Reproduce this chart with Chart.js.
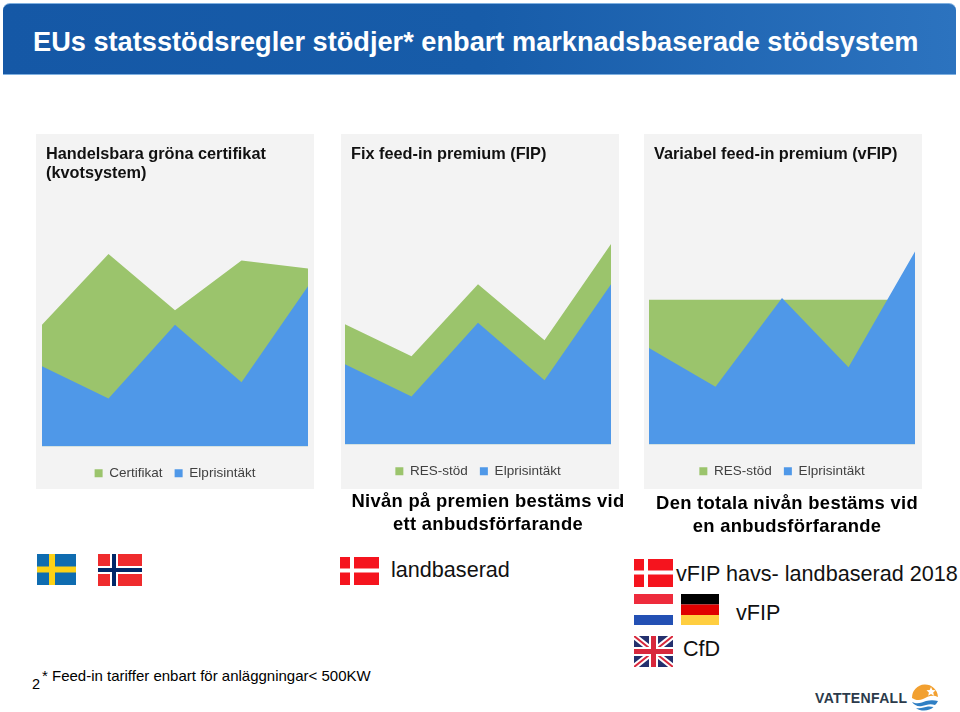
<!DOCTYPE html>
<html lang="sv">
<head>
<meta charset="utf-8">
<title>EUs statsstödsregler</title>
<script src="https://cdn.jsdelivr.net/npm/chart.js@4/dist/chart.umd.min.js"></script>
<style>
  html, body { margin: 0; padding: 0; background: #fff; overflow: hidden; }
  body { width: 960px; height: 712px; position: relative; font-family: "Liberation Sans", Arial, sans-serif; color: #000; }
  .abs { position: absolute; white-space: nowrap; }
  #header {
    left: 3px; top: 3px; width: 953px; height: 72px; box-sizing: border-box;
    border-radius: 7px 7px 0 0;
    border-top: 1px solid #7fb0e0; border-bottom: 1px solid #7fb0e0;
    background: linear-gradient(90deg, #1558a6 0%, #175ca9 50%, #2c73bf 100%);
  }
  #headline { left: 33px; top: 26px; color: #fff; font-size: 27.2px; font-weight: bold; }
  .panel { position: absolute; top: 134px; width: 278px; height: 355px; background: #f3f3f3; }
  .ptitle { font-size: 16.3px; font-weight: bold; color: #111; line-height: 19px; }
  .note { font-size: 18.4px; font-weight: bold; line-height: 23px; text-align: center; letter-spacing: 0.3px; }
  .big { font-size: 21.6px; color: #111; }
  canvas { position: absolute; top: 134px; }
  svg { position: absolute; }
</style>
</head>
<body>
<div id="header" class="abs"></div>
<div id="headline" class="abs">EUs statsstödsregler stödjer* enbart marknadsbaserade stödsystem</div>

<div class="panel" style="left:36px"></div>
<div class="panel" style="left:341px"></div>
<div class="panel" style="left:644px"></div>

<canvas id="chart1" width="278" height="364" style="left:36px"></canvas>
<canvas id="chart2" width="278" height="364" style="left:341px"></canvas>
<canvas id="chart3" width="278" height="364" style="left:644px"></canvas>

<div class="abs ptitle" style="left:46px;top:144px">Handelsbara gröna certifikat<br>(kvotsystem)</div>
<div class="abs ptitle" style="left:351px;top:144px">Fix feed-in premium (FIP)</div>
<div class="abs ptitle" style="left:654px;top:144px">Variabel feed-in premium (vFIP)</div>

<div class="abs note" style="left:342px;top:489px;width:292px">Nivån på premien bestäms vid<br>ett anbudsförfarande</div>
<div class="abs note" style="left:641px;top:491px;width:292px">Den totala nivån bestäms vid<br>en anbudsförfarande</div>

<div class="abs big" style="left:391px;top:557px">landbaserad</div>
<div class="abs big" style="left:676px;top:561px">vFIP havs- landbaserad 2018</div>
<div class="abs big" style="left:736px;top:600px">vFIP</div>
<div class="abs big" style="left:683px;top:636px">CfD</div>

<div class="abs" style="left:42px;top:667px;font-size:15px">* Feed-in tariffer enbart för anläggningar&lt; 500KW</div>
<div class="abs" style="left:32px;top:676px;font-size:14.5px">2</div>

<!-- flags -->
<svg style="left:37px;top:554px" width="39" height="31" viewBox="0 0 39 31">
  <rect width="39" height="31" fill="#0f6cb0"/><rect x="12" width="6" height="31" fill="#fcd116"/><rect y="12.5" width="39" height="6" fill="#fcd116"/>
</svg>
<svg style="left:98px;top:554px" width="44" height="32" viewBox="0 0 44 32">
  <rect width="44" height="32" fill="#ef2b2d"/>
  <rect x="12" width="8" height="32" fill="#fff"/><rect y="12" width="44" height="8" fill="#fff"/>
  <rect x="14" width="4" height="32" fill="#002868"/><rect y="14" width="44" height="4" fill="#002868"/>
</svg>
<svg style="left:340px;top:557px" width="39" height="28" viewBox="0 0 39 28">
  <rect width="39" height="28" fill="#f5141e"/><rect x="10" width="4" height="28" fill="#fff"/><rect y="11.5" width="39" height="4" fill="#fff"/>
</svg>
<svg style="left:634px;top:559px" width="39" height="28" viewBox="0 0 39 28">
  <rect width="39" height="28" fill="#f5141e"/><rect x="10" width="4" height="28" fill="#fff"/><rect y="11.5" width="39" height="4" fill="#fff"/>
</svg>
<svg style="left:634px;top:594px" width="39" height="31" viewBox="0 0 39 31">
  <rect width="39" height="10" fill="#ee2b3c"/><rect y="10" width="39" height="11" fill="#fff"/><rect y="21" width="39" height="10" fill="#2350b4"/>
</svg>
<svg style="left:681px;top:594px" width="38" height="31" viewBox="0 0 38 31">
  <rect width="38" height="10.5" fill="#000"/><rect y="10.5" width="38" height="10.5" fill="#e00000"/><rect y="21" width="38" height="10" fill="#ffce40"/>
</svg>
<svg style="left:634px;top:636px" width="39" height="31" viewBox="0 0 39 31">
  <rect width="39" height="31" fill="#24306e"/>
  <path d="M0 0L39 31M39 0L0 31" stroke="#fff" stroke-width="6"/>
  <path d="M0 0L39 31M39 0L0 31" stroke="#d8283c" stroke-width="2"/>
  <rect x="15" width="9" height="31" fill="#fff"/><rect y="11" width="39" height="9" fill="#fff"/>
  <rect x="17" width="5" height="31" fill="#d8283c"/><rect y="13" width="39" height="5" fill="#d8283c"/>
</svg>

<!-- logo -->
<div class="abs" style="left:815px;top:690px;font-size:14px;font-weight:bold;color:#2b3a4a;letter-spacing:0.35px">VATTENFALL</div>
<svg style="left:910px;top:684px" width="30" height="30" viewBox="0 0 30 30">
  <path d="M2 14A13 13 0 0 1 28 13C22 10 17 13 13 15C9 17 5 16 2 14Z" fill="#f2a030"/>
  <path d="M21 3l1.4 3 3.3.3-2.5 2.2.8 3.2-3-1.7-2.8 1.7.7-3.2-2.4-2.2 3.2-.3z" fill="#fff"/>
  <path d="M2 18C8 21 12 18 16 17C20 16 24 16 28 17C27 19 26 20 25 21C20 19 16 21 12 22C8 23 4 21 2 18Z" fill="#2f7fc4"/>
  <path d="M6 24C11 25 14 23 18 22.5C20 22.3 22 22.6 23.5 23C20 27 11 28 6 24Z" fill="#2f7fc4"/>
</svg>

<script>
const periods = ['1', '2', '3', '4', '5'];

// Elprisintäkt, samma kurva i alla tre
const elpris = [2.5, 1.5, 3.8, 2, 5];
// stödets överkant (elpris + stöd)
const certifikatTopp = [3.8, 6, 4.25, 5.8, 5.55];
const fipTopp = [3.75, 2.75, 5, 3.25, 6.25];
const vfipTopp = [3.75, 3.75, 3.75, 3.75, 3.75];

const green = '#9bc46c';
const blue = '#4f98e8';

Chart.defaults.font.family = '"Liberation Sans", Arial, sans-serif';

function drawArea(id, stodLabel, stod, yMax, pad) {
  new Chart(document.getElementById(id), {
    type: 'line',
    data: {
      labels: periods,
      datasets: [
        { label: 'Elprisintäkt', data: elpris, backgroundColor: blue, borderWidth: 0, pointRadius: 0, fill: 'origin', tension: 0 },
        { label: stodLabel, data: stod, backgroundColor: green, borderWidth: 0, pointRadius: 0, fill: 'origin', tension: 0 }
      ]
    },
    options: {
      responsive: false,
      animation: false,
      layout: { padding: pad },
      plugins: {
        tooltip: { enabled: false },
        legend: {
          position: 'bottom',
          reverse: true,
          onClick: null,
          labels: { boxWidth: 8, boxHeight: 8, padding: 12, color: '#404040', font: { size: 13.5 } }
        }
      },
      scales: {
        x: {
          display: true,
          offset: false,
          grid: { display: false },
          border: { display: false },
          ticks: { display: false },
          afterFit: scale => { scale.height = 8; }
        },
        y: { display: false, min: 0, max: yMax }
      }
    }
  });
}

drawArea('chart1', 'Certifikat', certifikatTopp, 7, { top: 88, left: 6, right: 6, bottom: 8 });
drawArea('chart2', 'RES-stöd', fipTopp, 7, { top: 86, left: 4, right: 8, bottom: 10 });
drawArea('chart3', 'RES-stöd', vfipTopp, 6, { top: 79, left: 5, right: 7, bottom: 10 });
</script>
</body>
</html>
